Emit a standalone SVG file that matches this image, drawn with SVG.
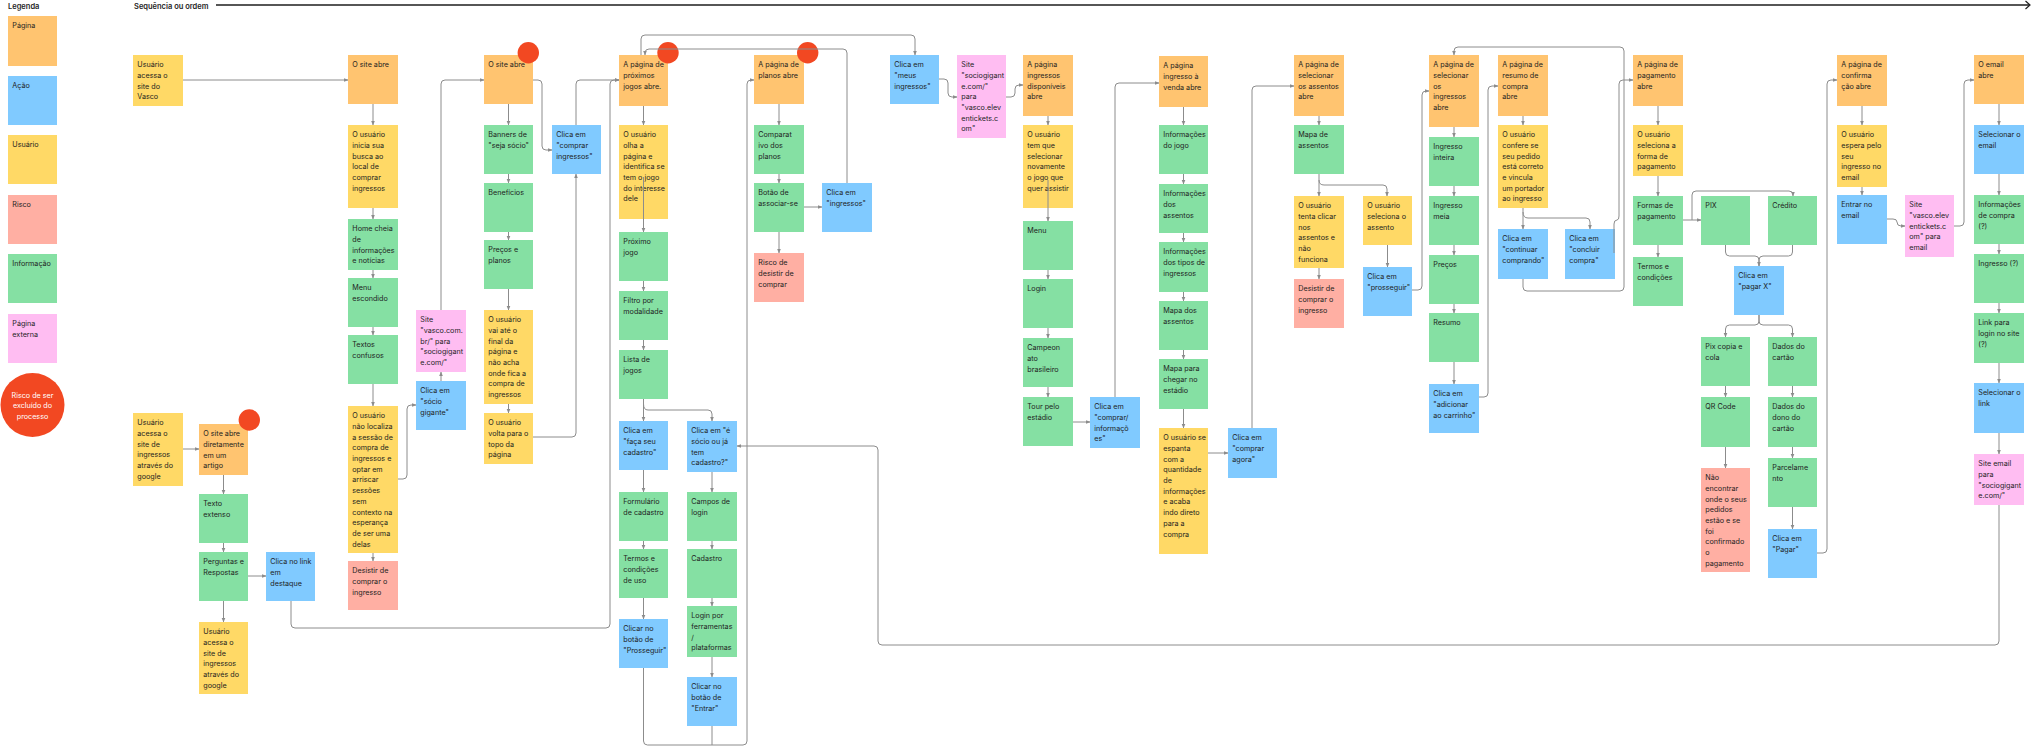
<svg xmlns="http://www.w3.org/2000/svg" width="2032" height="746" viewBox="0 0 2032 746">
<defs>
<marker id="ah" viewBox="0 0 6 6" refX="5.5" refY="3" markerWidth="4.5" markerHeight="4.5" markerUnits="userSpaceOnUse" orient="auto"><path d="M0,0.5 L6,3 L0,5.5 z" fill="#8c8c8c"/></marker>
</defs>
<style>
.pg{fill:#FFC470}.ac{fill:#80CAFF}.us{fill:#FFD966}.ri{fill:#FFAFA3}.in{fill:#85E0A3}.ex{fill:#FFBDF2}
.t{font-family:Inter,"Noto Sans","Liberation Sans",sans-serif;font-size:7.2px;fill:#1e1e1e}
.h{font-family:Inter,"Noto Sans","Liberation Sans",sans-serif;font-size:7.5px;font-weight:600;fill:#1e1e1e}
.w{font-family:Inter,"Noto Sans","Liberation Sans",sans-serif;font-size:7.2px;fill:#ffffff;text-anchor:middle}
.c{fill:none;stroke:#8c8c8c;stroke-width:1;marker-end:url(#ah)}
.cn{fill:none;stroke:#8c8c8c;stroke-width:1}
.rd{fill:#F24822}
</style>
<rect width="2032" height="746" fill="#ffffff"/>

<g id="header">
<text class="h" x="8" y="9">Legenda</text>
<text class="h" x="134" y="9">Sequência ou ordem</text>
<path d="M216,5 H2029" stroke="#1e1e1e" stroke-width="1.6" fill="none"/>
<polyline points="2025.5,1 2030,5 2025.5,9" stroke="#1e1e1e" stroke-width="1.2" fill="none"/>
</g>

<g id="legend">
<g id="leg-pagina"><rect class="pg" x="8" y="16" width="49" height="50"/><text class="t" x="12.3" y="28.2">Página</text></g>
<g id="leg-acao"><rect class="ac" x="8" y="76" width="49" height="49"/><text class="t" x="12.3" y="88.2">Ação</text></g>
<g id="leg-usuario"><rect class="us" x="8" y="135" width="49" height="49"/><text class="t" x="12.3" y="147.2">Usuário</text></g>
<g id="leg-risco"><rect class="ri" x="8" y="195" width="49" height="49"/><text class="t" x="12.3" y="207.2">Risco</text></g>
<g id="leg-info"><rect class="in" x="8" y="254" width="49" height="49"/><text class="t" x="12.3" y="266.2">Informação</text></g>
<g id="leg-externa"><rect class="ex" x="8" y="314" width="49" height="49"/><text class="t" x="12.3" y="326.2"><tspan x="12.3">Página</tspan><tspan x="12.3" dy="10.7">externa</tspan></text></g>
<g id="leg-exclusao"><circle class="rd" cx="32.5" cy="405" r="32"/><text class="w" x="32.5" y="397.5"><tspan x="32.5">Risco de ser</tspan><tspan x="32.5" dy="10.7">excluído do</tspan><tspan x="32.5" dy="10.7">processo</tspan></text></g>
</g>

<g id="nodes">
<g id="n1"><rect class="us" x="133" y="55" width="50" height="51"/><text class="t" x="137.3" y="67.2"><tspan x="137.3">Usuário</tspan><tspan x="137.3" dy="10.7">acessa o</tspan><tspan x="137.3" dy="10.7">site do</tspan><tspan x="137.3" dy="10.7">Vasco</tspan></text></g>
<g id="n2"><rect class="us" x="133" y="413" width="50" height="73"/><text class="t" x="137.3" y="425.2"><tspan x="137.3">Usuário</tspan><tspan x="137.3" dy="10.7">acessa o</tspan><tspan x="137.3" dy="10.7">site de</tspan><tspan x="137.3" dy="10.7">ingressos</tspan><tspan x="137.3" dy="10.7">através do</tspan><tspan x="137.3" dy="10.7">google</tspan></text></g>
<g id="n3"><rect class="pg" x="199" y="424" width="49" height="51"/><text class="t" x="203.3" y="436.2"><tspan x="203.3">O site abre</tspan><tspan x="203.3" dy="10.7">diretamente</tspan><tspan x="203.3" dy="10.7">em um</tspan><tspan x="203.3" dy="10.7">artigo</tspan></text><circle class="rd" cx="249.3" cy="420" r="10.7"/></g>
<g id="n4"><rect class="in" x="199" y="494" width="49" height="49"/><text class="t" x="203.3" y="506.2"><tspan x="203.3">Texto</tspan><tspan x="203.3" dy="10.7">extenso</tspan></text></g>
<g id="n5"><rect class="in" x="199" y="552" width="49" height="49"/><text class="t" x="203.3" y="564.2"><tspan x="203.3">Perguntas e</tspan><tspan x="203.3" dy="10.7">Respostas</tspan></text></g>
<g id="n6"><rect class="ac" x="266" y="552" width="49" height="49"/><text class="t" x="270.3" y="564.2"><tspan x="270.3">Clica no link</tspan><tspan x="270.3" dy="10.7">em</tspan><tspan x="270.3" dy="10.7">destaque</tspan></text></g>
<g id="n7"><rect class="us" x="199" y="622" width="49" height="72"/><text class="t" x="203.3" y="634.2"><tspan x="203.3">Usuário</tspan><tspan x="203.3" dy="10.7">acessa o</tspan><tspan x="203.3" dy="10.7">site de</tspan><tspan x="203.3" dy="10.7">ingressos</tspan><tspan x="203.3" dy="10.7">através do</tspan><tspan x="203.3" dy="10.7">google</tspan></text></g>

<g id="n8"><rect class="pg" x="348" y="55" width="50" height="49"/><text class="t" x="352.3" y="67.2">O site abre</text></g>
<g id="n9"><rect class="us" x="348" y="125" width="50" height="83"/><text class="t" x="352.3" y="137.2"><tspan x="352.3">O usuário</tspan><tspan x="352.3" dy="10.7">inicia sua</tspan><tspan x="352.3" dy="10.7">busca ao</tspan><tspan x="352.3" dy="10.7">local de</tspan><tspan x="352.3" dy="10.7">comprar</tspan><tspan x="352.3" dy="10.7">ingressos</tspan></text></g>
<g id="n10"><rect class="in" x="348" y="219" width="50" height="51"/><text class="t" x="352.3" y="231.2"><tspan x="352.3">Home cheia</tspan><tspan x="352.3" dy="10.7">de</tspan><tspan x="352.3" dy="10.7">informações</tspan><tspan x="352.3" dy="10.7">e notícias</tspan></text></g>
<g id="n11"><rect class="in" x="348" y="278" width="50" height="49"/><text class="t" x="352.3" y="290.2"><tspan x="352.3">Menu</tspan><tspan x="352.3" dy="10.7">escondido</tspan></text></g>
<g id="n12"><rect class="in" x="348" y="335" width="50" height="49"/><text class="t" x="352.3" y="347.2"><tspan x="352.3">Textos</tspan><tspan x="352.3" dy="10.7">confusos</tspan></text></g>
<g id="n13"><rect class="us" x="348" y="406" width="50" height="147"/><text class="t" x="352.3" y="418.2"><tspan x="352.3">O usuário</tspan><tspan x="352.3" dy="10.7">não localiza</tspan><tspan x="352.3" dy="10.7">a sessão de</tspan><tspan x="352.3" dy="10.7">compra de</tspan><tspan x="352.3" dy="10.7">ingressos e</tspan><tspan x="352.3" dy="10.7">optar em</tspan><tspan x="352.3" dy="10.7">arriscar</tspan><tspan x="352.3" dy="10.7">sessões</tspan><tspan x="352.3" dy="10.7">sem</tspan><tspan x="352.3" dy="10.7">contexto na</tspan><tspan x="352.3" dy="10.7">esperança</tspan><tspan x="352.3" dy="10.7">de ser uma</tspan><tspan x="352.3" dy="10.7">delas</tspan></text></g>
<g id="n14"><rect class="ri" x="348" y="561" width="50" height="49"/><text class="t" x="352.3" y="573.2"><tspan x="352.3">Desistir de</tspan><tspan x="352.3" dy="10.7">comprar o</tspan><tspan x="352.3" dy="10.7">ingresso</tspan></text></g>
<g id="n15"><rect class="ex" x="416" y="310" width="50" height="62"/><text class="t" x="420.3" y="322.2"><tspan x="420.3">Site</tspan><tspan x="420.3" dy="10.7">"vasco.com.</tspan><tspan x="420.3" dy="10.7">br/" para</tspan><tspan x="420.3" dy="10.7">"sociogigant</tspan><tspan x="420.3" dy="10.7">e.com/"</tspan></text></g>
<g id="n16"><rect class="ac" x="416" y="381" width="50" height="49"/><text class="t" x="420.3" y="393.2"><tspan x="420.3">Clica em</tspan><tspan x="420.3" dy="10.7">"sócio</tspan><tspan x="420.3" dy="10.7">gigante"</tspan></text></g>

<g id="n17"><rect class="pg" x="484" y="55" width="49" height="49"/><text class="t" x="488.3" y="67.2">O site abre</text><circle class="rd" cx="528.3" cy="52.7" r="10.7"/></g>
<g id="n18"><rect class="in" x="484" y="125" width="49" height="49"/><text class="t" x="488.3" y="137.2"><tspan x="488.3">Banners de</tspan><tspan x="488.3" dy="10.7">"seja sócio"</tspan></text></g>
<g id="n19"><rect class="in" x="484" y="183" width="49" height="49"/><text class="t" x="488.3" y="195.2">Benefícios</text></g>
<g id="n20"><rect class="in" x="484" y="240" width="49" height="49"/><text class="t" x="488.3" y="252.2"><tspan x="488.3">Preços e</tspan><tspan x="488.3" dy="10.7">planos</tspan></text></g>
<g id="n21"><rect class="us" x="484" y="310" width="49" height="94"/><text class="t" x="488.3" y="322.2"><tspan x="488.3">O usuário</tspan><tspan x="488.3" dy="10.7">vai até o</tspan><tspan x="488.3" dy="10.7">final da</tspan><tspan x="488.3" dy="10.7">página e</tspan><tspan x="488.3" dy="10.7">não acha</tspan><tspan x="488.3" dy="10.7">onde fica a</tspan><tspan x="488.3" dy="10.7">compra de</tspan><tspan x="488.3" dy="10.7">ingressos</tspan></text></g>
<g id="n22"><rect class="us" x="484" y="413" width="49" height="51"/><text class="t" x="488.3" y="425.2"><tspan x="488.3">O usuário</tspan><tspan x="488.3" dy="10.7">volta para o</tspan><tspan x="488.3" dy="10.7">topo da</tspan><tspan x="488.3" dy="10.7">página</tspan></text></g>
<g id="n23"><rect class="ac" x="552" y="125" width="49" height="49"/><text class="t" x="556.3" y="137.2"><tspan x="556.3">Clica em</tspan><tspan x="556.3" dy="10.7">"comprar</tspan><tspan x="556.3" dy="10.7">ingressos"</tspan></text></g>

<g id="n24"><rect class="pg" x="619" y="55" width="49" height="51"/><text class="t" x="623.3" y="67.2"><tspan x="623.3">A página de</tspan><tspan x="623.3" dy="10.7">próximos</tspan><tspan x="623.3" dy="10.7">jogos abre.</tspan></text><circle class="rd" cx="668" cy="52.7" r="10.7"/></g>
<g id="n25"><rect class="us" x="619" y="125" width="49" height="94"/><text class="t" x="623.3" y="137.2"><tspan x="623.3">O usuário</tspan><tspan x="623.3" dy="10.7">olha a</tspan><tspan x="623.3" dy="10.7">página e</tspan><tspan x="623.3" dy="10.7">identifica se</tspan><tspan x="623.3" dy="10.7">tem o jogo</tspan><tspan x="623.3" dy="10.7">do interesse</tspan><tspan x="623.3" dy="10.7">dele</tspan></text></g>
<g id="n26"><rect class="in" x="619" y="232" width="49" height="49"/><text class="t" x="623.3" y="244.2"><tspan x="623.3">Próximo</tspan><tspan x="623.3" dy="10.7">jogo</tspan></text></g>
<g id="n27"><rect class="in" x="619" y="291" width="49" height="49"/><text class="t" x="623.3" y="303.2"><tspan x="623.3">Filtro por</tspan><tspan x="623.3" dy="10.7">modalidade</tspan></text></g>
<g id="n28"><rect class="in" x="619" y="350" width="49" height="49"/><text class="t" x="623.3" y="362.2"><tspan x="623.3">Lista de</tspan><tspan x="623.3" dy="10.7">jogos</tspan></text></g>
<g id="n29"><rect class="ac" x="619" y="421" width="49" height="49"/><text class="t" x="623.3" y="433.2"><tspan x="623.3">Clica em</tspan><tspan x="623.3" dy="10.7">"faça seu</tspan><tspan x="623.3" dy="10.7">cadastro"</tspan></text></g>
<g id="n30"><rect class="in" x="619" y="492" width="49" height="49"/><text class="t" x="623.3" y="504.2"><tspan x="623.3">Formulário</tspan><tspan x="623.3" dy="10.7">de cadastro</tspan></text></g>
<g id="n31"><rect class="in" x="619" y="549" width="49" height="49"/><text class="t" x="623.3" y="561.2"><tspan x="623.3">Termos e</tspan><tspan x="623.3" dy="10.7">condições</tspan><tspan x="623.3" dy="10.7">de uso</tspan></text></g>
<g id="n32"><rect class="ac" x="619" y="619" width="49" height="49"/><text class="t" x="623.3" y="631.2"><tspan x="623.3">Clicar no</tspan><tspan x="623.3" dy="10.7">botão de</tspan><tspan x="623.3" dy="10.7">"Prosseguir"</tspan></text></g>

<g id="n33"><rect class="ac" x="687" y="421" width="50" height="51"/><text class="t" x="691.3" y="433.2"><tspan x="691.3">Clica em "é</tspan><tspan x="691.3" dy="10.7">sócio ou já</tspan><tspan x="691.3" dy="10.7">tem</tspan><tspan x="691.3" dy="10.7">cadastro?"</tspan></text></g>
<g id="n34"><rect class="in" x="687" y="492" width="50" height="49"/><text class="t" x="691.3" y="504.2"><tspan x="691.3">Campos de</tspan><tspan x="691.3" dy="10.7">login</tspan></text></g>
<g id="n35"><rect class="in" x="687" y="549" width="50" height="49"/><text class="t" x="691.3" y="561.2">Cadastro</text></g>
<g id="n36"><rect class="in" x="687" y="606" width="50" height="51"/><text class="t" x="691.3" y="618.2"><tspan x="691.3">Login por</tspan><tspan x="691.3" dy="10.7">ferramentas</tspan><tspan x="691.3" dy="10.7">/</tspan><tspan x="691.3" dy="10.7">plataformas</tspan></text></g>
<g id="n37"><rect class="ac" x="687" y="677" width="50" height="49"/><text class="t" x="691.3" y="689.2"><tspan x="691.3">Clicar no</tspan><tspan x="691.3" dy="10.7">botão de</tspan><tspan x="691.3" dy="10.7">"Entrar"</tspan></text></g>

<g id="n38"><rect class="pg" x="754" y="55" width="50" height="49"/><text class="t" x="758.3" y="67.2"><tspan x="758.3">A página de</tspan><tspan x="758.3" dy="10.7">planos abre</tspan></text><circle class="rd" cx="807.7" cy="52.7" r="10.7"/></g>
<g id="n39"><rect class="in" x="754" y="125" width="50" height="49"/><text class="t" x="758.3" y="137.2"><tspan x="758.3">Comparat</tspan><tspan x="758.3" dy="10.7">ivo dos</tspan><tspan x="758.3" dy="10.7">planos</tspan></text></g>
<g id="n40"><rect class="in" x="754" y="183" width="50" height="49"/><text class="t" x="758.3" y="195.2"><tspan x="758.3">Botão de</tspan><tspan x="758.3" dy="10.7">associar-se</tspan></text></g>
<g id="n41"><rect class="ri" x="754" y="253" width="50" height="49"/><text class="t" x="758.3" y="265.2"><tspan x="758.3">Risco de</tspan><tspan x="758.3" dy="10.7">desistir de</tspan><tspan x="758.3" dy="10.7">comprar</tspan></text></g>
<g id="n42"><rect class="ac" x="822" y="183" width="50" height="49"/><text class="t" x="826.3" y="195.2"><tspan x="826.3">Clica em</tspan><tspan x="826.3" dy="10.7">"ingressos"</tspan></text></g>
<g id="n43"><rect class="ac" x="890" y="55" width="49" height="49"/><text class="t" x="894.3" y="67.2"><tspan x="894.3">Clica em</tspan><tspan x="894.3" dy="10.7">"meus</tspan><tspan x="894.3" dy="10.7">ingressos"</tspan></text></g>
<g id="n44"><rect class="ex" x="957" y="55" width="49" height="83"/><text class="t" x="961.3" y="67.2"><tspan x="961.3">Site</tspan><tspan x="961.3" dy="10.7">"sociogigant</tspan><tspan x="961.3" dy="10.7">e.com/"</tspan><tspan x="961.3" dy="10.7">para</tspan><tspan x="961.3" dy="10.7">"vasco.elev</tspan><tspan x="961.3" dy="10.7">entickets.c</tspan><tspan x="961.3" dy="10.7">om"</tspan></text></g>

<g id="n45"><rect class="pg" x="1023" y="55" width="50" height="61"/><text class="t" x="1027.3" y="67.2"><tspan x="1027.3">A página</tspan><tspan x="1027.3" dy="10.7">ingressos</tspan><tspan x="1027.3" dy="10.7">disponíveis</tspan><tspan x="1027.3" dy="10.7">abre</tspan></text></g>
<g id="n46"><rect class="us" x="1023" y="125" width="50" height="83"/><text class="t" x="1027.3" y="137.2"><tspan x="1027.3">O usuário</tspan><tspan x="1027.3" dy="10.7">tem que</tspan><tspan x="1027.3" dy="10.7">selecionar</tspan><tspan x="1027.3" dy="10.7">novamente</tspan><tspan x="1027.3" dy="10.7">o jogo que</tspan><tspan x="1027.3" dy="10.7">quer assistir</tspan></text></g>
<g id="n47"><rect class="in" x="1023" y="221" width="50" height="49"/><text class="t" x="1027.3" y="233.2">Menu</text></g>
<g id="n48"><rect class="in" x="1023" y="279" width="50" height="49"/><text class="t" x="1027.3" y="291.2">Login</text></g>
<g id="n49"><rect class="in" x="1023" y="338" width="50" height="49"/><text class="t" x="1027.3" y="350.2"><tspan x="1027.3">Campeon</tspan><tspan x="1027.3" dy="10.7">ato</tspan><tspan x="1027.3" dy="10.7">brasileiro</tspan></text></g>
<g id="n50"><rect class="in" x="1023" y="397" width="50" height="49"/><text class="t" x="1027.3" y="409.2"><tspan x="1027.3">Tour pelo</tspan><tspan x="1027.3" dy="10.7">estádio</tspan></text></g>
<g id="n51"><rect class="ac" x="1090" y="397" width="50" height="51"/><text class="t" x="1094.3" y="409.2"><tspan x="1094.3">Clica em</tspan><tspan x="1094.3" dy="10.7">"comprar/</tspan><tspan x="1094.3" dy="10.7">informaçõ</tspan><tspan x="1094.3" dy="10.7">es"</tspan></text></g>

<g id="n52"><rect class="pg" x="1159" y="56" width="49" height="51"/><text class="t" x="1163.3" y="68.2"><tspan x="1163.3">A página</tspan><tspan x="1163.3" dy="10.7">ingresso à</tspan><tspan x="1163.3" dy="10.7">venda abre</tspan></text></g>
<g id="n53"><rect class="in" x="1159" y="125" width="49" height="49"/><text class="t" x="1163.3" y="137.2"><tspan x="1163.3">Informações</tspan><tspan x="1163.3" dy="10.7">do jogo</tspan></text></g>
<g id="n54"><rect class="in" x="1159" y="184" width="49" height="49"/><text class="t" x="1163.3" y="196.2"><tspan x="1163.3">Informações</tspan><tspan x="1163.3" dy="10.7">dos</tspan><tspan x="1163.3" dy="10.7">assentos</tspan></text></g>
<g id="n55"><rect class="in" x="1159" y="242" width="49" height="50"/><text class="t" x="1163.3" y="254.2"><tspan x="1163.3">Informações</tspan><tspan x="1163.3" dy="10.7">dos tipos de</tspan><tspan x="1163.3" dy="10.7">ingressos</tspan></text></g>
<g id="n56"><rect class="in" x="1159" y="301" width="49" height="49"/><text class="t" x="1163.3" y="313.2"><tspan x="1163.3">Mapa dos</tspan><tspan x="1163.3" dy="10.7">assentos</tspan></text></g>
<g id="n57"><rect class="in" x="1159" y="359" width="49" height="50"/><text class="t" x="1163.3" y="371.2"><tspan x="1163.3">Mapa para</tspan><tspan x="1163.3" dy="10.7">chegar no</tspan><tspan x="1163.3" dy="10.7">estádio</tspan></text></g>
<g id="n58"><rect class="us" x="1159" y="428" width="49" height="126"/><text class="t" x="1163.3" y="440.2"><tspan x="1163.3">O usuário se</tspan><tspan x="1163.3" dy="10.7">espanta</tspan><tspan x="1163.3" dy="10.7">com a</tspan><tspan x="1163.3" dy="10.7">quantidade</tspan><tspan x="1163.3" dy="10.7">de</tspan><tspan x="1163.3" dy="10.7">informações</tspan><tspan x="1163.3" dy="10.7">e acaba</tspan><tspan x="1163.3" dy="10.7">indo direto</tspan><tspan x="1163.3" dy="10.7">para a</tspan><tspan x="1163.3" dy="10.7">compra</tspan></text></g>
<g id="n59"><rect class="ac" x="1228" y="428" width="49" height="50"/><text class="t" x="1232.3" y="440.2"><tspan x="1232.3">Clica em</tspan><tspan x="1232.3" dy="10.7">"comprar</tspan><tspan x="1232.3" dy="10.7">agora"</tspan></text></g>

<g id="n60"><rect class="pg" x="1294" y="55" width="50" height="61"/><text class="t" x="1298.3" y="67.2"><tspan x="1298.3">A página de</tspan><tspan x="1298.3" dy="10.7">selecionar</tspan><tspan x="1298.3" dy="10.7">os assentos</tspan><tspan x="1298.3" dy="10.7">abre</tspan></text></g>
<g id="n61"><rect class="in" x="1294" y="125" width="50" height="49"/><text class="t" x="1298.3" y="137.2"><tspan x="1298.3">Mapa de</tspan><tspan x="1298.3" dy="10.7">assentos</tspan></text></g>
<g id="n62"><rect class="us" x="1294" y="196" width="50" height="72"/><text class="t" x="1298.3" y="208.2"><tspan x="1298.3">O usuário</tspan><tspan x="1298.3" dy="10.7">tenta clicar</tspan><tspan x="1298.3" dy="10.7">nos</tspan><tspan x="1298.3" dy="10.7">assentos e</tspan><tspan x="1298.3" dy="10.7">não</tspan><tspan x="1298.3" dy="10.7">funciona</tspan></text></g>
<g id="n63"><rect class="ri" x="1294" y="279" width="50" height="49"/><text class="t" x="1298.3" y="291.2"><tspan x="1298.3">Desistir de</tspan><tspan x="1298.3" dy="10.7">comprar o</tspan><tspan x="1298.3" dy="10.7">ingresso</tspan></text></g>
<g id="n64"><rect class="us" x="1363" y="196" width="49" height="49"/><text class="t" x="1367.3" y="208.2"><tspan x="1367.3">O usuário</tspan><tspan x="1367.3" dy="10.7">seleciona o</tspan><tspan x="1367.3" dy="10.7">assento</tspan></text></g>
<g id="n65"><rect class="ac" x="1363" y="267" width="49" height="49"/><text class="t" x="1367.3" y="279.2"><tspan x="1367.3">Clica em</tspan><tspan x="1367.3" dy="10.7">"prosseguir"</tspan></text></g>

<g id="n66"><rect class="pg" x="1429" y="55" width="50" height="72"/><text class="t" x="1433.3" y="67.2"><tspan x="1433.3">A página de</tspan><tspan x="1433.3" dy="10.7">selecionar</tspan><tspan x="1433.3" dy="10.7">os</tspan><tspan x="1433.3" dy="10.7">ingressos</tspan><tspan x="1433.3" dy="10.7">abre</tspan></text></g>
<g id="n67"><rect class="in" x="1429" y="137" width="50" height="49"/><text class="t" x="1433.3" y="149.2"><tspan x="1433.3">Ingresso</tspan><tspan x="1433.3" dy="10.7">inteira</tspan></text></g>
<g id="n68"><rect class="in" x="1429" y="196" width="50" height="49"/><text class="t" x="1433.3" y="208.2"><tspan x="1433.3">Ingresso</tspan><tspan x="1433.3" dy="10.7">meia</tspan></text></g>
<g id="n69"><rect class="in" x="1429" y="255" width="50" height="49"/><text class="t" x="1433.3" y="267.2">Preços</text></g>
<g id="n70"><rect class="in" x="1429" y="313" width="50" height="49"/><text class="t" x="1433.3" y="325.2">Resumo</text></g>
<g id="n71"><rect class="ac" x="1429" y="384" width="50" height="49"/><text class="t" x="1433.3" y="396.2"><tspan x="1433.3">Clica em</tspan><tspan x="1433.3" dy="10.7">"adicionar</tspan><tspan x="1433.3" dy="10.7">ao carrinho"</tspan></text></g>

<g id="n72"><rect class="pg" x="1498" y="55" width="50" height="61"/><text class="t" x="1502.3" y="67.2"><tspan x="1502.3">A página de</tspan><tspan x="1502.3" dy="10.7">resumo de</tspan><tspan x="1502.3" dy="10.7">compra</tspan><tspan x="1502.3" dy="10.7">abre</tspan></text></g>
<g id="n73"><rect class="us" x="1498" y="125" width="50" height="83"/><text class="t" x="1502.3" y="137.2"><tspan x="1502.3">O usuário</tspan><tspan x="1502.3" dy="10.7">confere se</tspan><tspan x="1502.3" dy="10.7">seu pedido</tspan><tspan x="1502.3" dy="10.7">está correto</tspan><tspan x="1502.3" dy="10.7">e vincula</tspan><tspan x="1502.3" dy="10.7">um portador</tspan><tspan x="1502.3" dy="10.7">ao ingresso</tspan></text></g>
<g id="n74"><rect class="ac" x="1498" y="229" width="50" height="50"/><text class="t" x="1502.3" y="241.2"><tspan x="1502.3">Clica em</tspan><tspan x="1502.3" dy="10.7">"continuar</tspan><tspan x="1502.3" dy="10.7">comprando"</tspan></text></g>
<g id="n75"><rect class="ac" x="1565" y="229" width="50" height="50"/><text class="t" x="1569.3" y="241.2"><tspan x="1569.3">Clica em</tspan><tspan x="1569.3" dy="10.7">"concluir</tspan><tspan x="1569.3" dy="10.7">compra"</tspan></text></g>

<g id="n76"><rect class="pg" x="1633" y="55" width="50" height="51"/><text class="t" x="1637.3" y="67.2"><tspan x="1637.3">A página de</tspan><tspan x="1637.3" dy="10.7">pagamento</tspan><tspan x="1637.3" dy="10.7">abre</tspan></text></g>
<g id="n77"><rect class="us" x="1633" y="125" width="50" height="51"/><text class="t" x="1637.3" y="137.2"><tspan x="1637.3">O usuário</tspan><tspan x="1637.3" dy="10.7">seleciona a</tspan><tspan x="1637.3" dy="10.7">forma de</tspan><tspan x="1637.3" dy="10.7">pagamento</tspan></text></g>
<g id="n78"><rect class="in" x="1633" y="196" width="50" height="49"/><text class="t" x="1637.3" y="208.2"><tspan x="1637.3">Formas de</tspan><tspan x="1637.3" dy="10.7">pagamento</tspan></text></g>
<g id="n79"><rect class="in" x="1633" y="257" width="50" height="49"/><text class="t" x="1637.3" y="269.2"><tspan x="1637.3">Termos e</tspan><tspan x="1637.3" dy="10.7">condições</tspan></text></g>
<g id="n80"><rect class="in" x="1701" y="196" width="49" height="49"/><text class="t" x="1705.3" y="208.2">PIX</text></g>
<g id="n81"><rect class="in" x="1768" y="196" width="49" height="49"/><text class="t" x="1772.3" y="208.2">Crédito</text></g>
<g id="n82"><rect class="ac" x="1734" y="266" width="50" height="49"/><text class="t" x="1738.3" y="278.2"><tspan x="1738.3">Clica em</tspan><tspan x="1738.3" dy="10.7">"pagar X"</tspan></text></g>
<g id="n83"><rect class="in" x="1701" y="337" width="49" height="49"/><text class="t" x="1705.3" y="349.2"><tspan x="1705.3">Pix copia e</tspan><tspan x="1705.3" dy="10.7">cola</tspan></text></g>
<g id="n84"><rect class="in" x="1768" y="337" width="49" height="49"/><text class="t" x="1772.3" y="349.2"><tspan x="1772.3">Dados do</tspan><tspan x="1772.3" dy="10.7">cartão</tspan></text></g>
<g id="n85"><rect class="in" x="1701" y="397" width="49" height="50"/><text class="t" x="1705.3" y="409.2">QR Code</text></g>
<g id="n86"><rect class="in" x="1768" y="397" width="49" height="50"/><text class="t" x="1772.3" y="409.2"><tspan x="1772.3">Dados do</tspan><tspan x="1772.3" dy="10.7">dono do</tspan><tspan x="1772.3" dy="10.7">cartão</tspan></text></g>
<g id="n87"><rect class="ri" x="1701" y="468" width="49" height="104"/><text class="t" x="1705.3" y="480.2"><tspan x="1705.3">Não</tspan><tspan x="1705.3" dy="10.7">encontrar</tspan><tspan x="1705.3" dy="10.7">onde o seus</tspan><tspan x="1705.3" dy="10.7">pedidos</tspan><tspan x="1705.3" dy="10.7">estão e se</tspan><tspan x="1705.3" dy="10.7">foi</tspan><tspan x="1705.3" dy="10.7">confirmado</tspan><tspan x="1705.3" dy="10.7">o</tspan><tspan x="1705.3" dy="10.7">pagamento</tspan></text></g>
<g id="n88"><rect class="in" x="1768" y="458" width="49" height="49"/><text class="t" x="1772.3" y="470.2"><tspan x="1772.3">Parcelame</tspan><tspan x="1772.3" dy="10.7">nto</tspan></text></g>
<g id="n89"><rect class="ac" x="1768" y="529" width="49" height="49"/><text class="t" x="1772.3" y="541.2"><tspan x="1772.3">Clica em</tspan><tspan x="1772.3" dy="10.7">"Pagar"</tspan></text></g>

<g id="n90"><rect class="pg" x="1837" y="55" width="50" height="51"/><text class="t" x="1841.3" y="67.2"><tspan x="1841.3">A página de</tspan><tspan x="1841.3" dy="10.7">confirma</tspan><tspan x="1841.3" dy="10.7">ção abre</tspan></text></g>
<g id="n91"><rect class="us" x="1837" y="125" width="50" height="62"/><text class="t" x="1841.3" y="137.2"><tspan x="1841.3">O usuário</tspan><tspan x="1841.3" dy="10.7">espera pelo</tspan><tspan x="1841.3" dy="10.7">seu</tspan><tspan x="1841.3" dy="10.7">ingresso no</tspan><tspan x="1841.3" dy="10.7">email</tspan></text></g>
<g id="n92"><rect class="ac" x="1837" y="195" width="50" height="49"/><text class="t" x="1841.3" y="207.2"><tspan x="1841.3">Entrar no</tspan><tspan x="1841.3" dy="10.7">email</tspan></text></g>
<g id="n93"><rect class="ex" x="1905" y="195" width="49" height="62"/><text class="t" x="1909.3" y="207.2"><tspan x="1909.3">Site</tspan><tspan x="1909.3" dy="10.7">"vasco.elev</tspan><tspan x="1909.3" dy="10.7">entickets.c</tspan><tspan x="1909.3" dy="10.7">om" para</tspan><tspan x="1909.3" dy="10.7">email</tspan></text></g>

<g id="n94"><rect class="pg" x="1974" y="55" width="50" height="49"/><text class="t" x="1978.3" y="67.2"><tspan x="1978.3">O email</tspan><tspan x="1978.3" dy="10.7">abre</tspan></text></g>
<g id="n95"><rect class="ac" x="1974" y="125" width="50" height="49"/><text class="t" x="1978.3" y="137.2"><tspan x="1978.3">Selecionar o</tspan><tspan x="1978.3" dy="10.7">email</tspan></text></g>
<g id="n96"><rect class="in" x="1974" y="195" width="50" height="49"/><text class="t" x="1978.3" y="207.2"><tspan x="1978.3">Informações</tspan><tspan x="1978.3" dy="10.7">de compra</tspan><tspan x="1978.3" dy="10.7">(?)</tspan></text></g>
<g id="n97"><rect class="in" x="1974" y="254" width="50" height="49"/><text class="t" x="1978.3" y="266.2">Ingresso (?)</text></g>
<g id="n98"><rect class="in" x="1974" y="313" width="50" height="50"/><text class="t" x="1978.3" y="325.2"><tspan x="1978.3">Link para</tspan><tspan x="1978.3" dy="10.7">login no site</tspan><tspan x="1978.3" dy="10.7">(?)</tspan></text></g>
<g id="n99"><rect class="ac" x="1974" y="383" width="50" height="50"/><text class="t" x="1978.3" y="395.2"><tspan x="1978.3">Selecionar o</tspan><tspan x="1978.3" dy="10.7">link</tspan></text></g>
<g id="n100"><rect class="ex" x="1974" y="454" width="50" height="51"/><text class="t" x="1978.3" y="466.2"><tspan x="1978.3">Site email</tspan><tspan x="1978.3" dy="10.7">para</tspan><tspan x="1978.3" dy="10.7">"sociogigant</tspan><tspan x="1978.3" dy="10.7">e.com/"</tspan></text></g>
</g>

<g id="connectors">
<path class="c" d="M183,80 H348"/>
<path class="c" d="M183,449 H199"/>
<path class="c" d="M223.5,475 V494"/>
<path class="c" d="M223.5,543 V552"/>
<path class="c" d="M248,576 H266"/>
<path class="c" d="M223.5,601 V622"/>
<path class="c" d="M291,601 V624 Q291,628 295,628 H606 Q610,628 610,624 V84 Q610,80 614,80 H619"/>
<path class="c" d="M373,104 V125"/>
<path class="c" d="M373,208 V219"/>
<path class="c" d="M373,270 V278"/>
<path class="c" d="M373,327 V335"/>
<path class="c" d="M373,384 V406"/>
<path class="c" d="M373,553 V561"/>
<path class="c" d="M398,479 H403 Q407,479 407,475 V409 Q407,405 411,405 H416"/>
<path class="c" d="M441,381 V372"/>
<path class="c" d="M441,310 V84 Q441,80 445,80 H484"/>
<path class="c" d="M508.5,104 V125"/>
<path class="c" d="M508.5,174 V183"/>
<path class="c" d="M508.5,232 V240"/>
<path class="c" d="M508.5,289 V310"/>
<path class="c" d="M508.5,404 V413"/>
<path class="c" d="M533,80 H538 Q542,80 542,84 V146 Q542,150 546,150 H552"/>
<path class="c" d="M533,437 H572 Q576,437 576,433 V174"/>
<path class="c" d="M576,125 V84 Q576,80 580,80 H619"/>
<path class="c" d="M643.5,106 V125"/>
<path class="c" d="M643.5,177 V232"/>
<path class="c" d="M643.5,281 V291"/>
<path class="c" d="M643.5,340 V350"/>
<path class="c" d="M643.5,399 V421"/>
<path class="c" d="M643.5,470 V492"/>
<path class="c" d="M643.5,541 V549"/>
<path class="c" d="M643.5,598 V619"/>
<path class="c" d="M643.5,404 Q643.5,410 648,410 H708 Q712,410 712,414 V421"/>
<path class="c" d="M712,472 V492"/>
<path class="c" d="M712,541 V549"/>
<path class="c" d="M712,598 V606"/>
<path class="c" d="M712,657 V677"/>
<path class="c" d="M643.5,668 V741 Q643.5,745 647.5,745 H743 Q747,745 747,741 V84 Q747,80 751,80 H754"/>
<path class="cn" d="M712,726 V745"/>
<path class="c" d="M779,104 V125"/>
<path class="c" d="M779,174 V183"/>
<path class="c" d="M779,232 V253"/>
<path class="c" d="M804,207 H822"/>
<path class="c" d="M847,183 V53 Q847,49 843,49 H649 Q645,49 645,53 V55"/>
<path class="c" d="M641,55 V39 Q641,35 645,35 H911 Q915,35 915,39 V55"/>
<path class="c" d="M939,79 H944 Q948,79 948,83 V93 Q948,97 952,97 H957"/>
<path class="c" d="M1006,97 H1011 Q1015,97 1015,93 V89 Q1015,85 1019,85 H1023"/>
<path class="c" d="M1048,116 V125"/>
<path class="c" d="M1048,180 V221"/>
<path class="c" d="M1048,270 V279"/>
<path class="c" d="M1048,328 V338"/>
<path class="c" d="M1048,387 V397"/>
<path class="c" d="M1073,422 H1090"/>
<path class="c" d="M1115,397 V87 Q1115,83 1119,83 H1159"/>
<path class="c" d="M1183.5,107 V125"/>
<path class="c" d="M1183.5,174 V184"/>
<path class="c" d="M1183.5,233 V242"/>
<path class="c" d="M1183.5,292 V301"/>
<path class="c" d="M1183.5,350 V359"/>
<path class="c" d="M1183.5,409 V428"/>
<path class="c" d="M1208,453 H1228"/>
<path class="c" d="M1252,428 V90 Q1252,86 1256,86 H1294"/>
<path class="c" d="M1319,116 V125"/>
<path class="c" d="M1319,174 V196"/>
<path class="c" d="M1319,268 V279"/>
<path class="c" d="M1319,180 Q1319,185 1324,185 H1383 Q1387,185 1387,189 V196"/>
<path class="c" d="M1387.5,245 V267"/>
<path class="c" d="M1412,290 H1418 Q1422,290 1422,286 V95 Q1422,91 1426,91 H1429"/>
<path class="c" d="M1454,127 V137"/>
<path class="c" d="M1454,186 V196"/>
<path class="c" d="M1454,245 V255"/>
<path class="c" d="M1454,304 V313"/>
<path class="c" d="M1454,362 V384"/>
<path class="c" d="M1479,397 H1484 Q1488,397 1488,393 V90 Q1488,86 1492,86 H1498"/>
<path class="c" d="M1523,116 V125"/>
<path class="c" d="M1523,208 V229"/>
<path class="c" d="M1523,212 Q1523,218 1528,218 H1586 Q1590,218 1590,222 V229"/>
<path class="c" d="M1523,279 V287 Q1523,291 1527,291 H1620 Q1624,291 1624,287 V51 Q1624,47 1620,47 H1458 Q1454,47 1454,51 V55"/>
<path class="c" d="M1614,253 V224 Q1614,220 1617,220 Q1619,220 1619,216 V84 Q1619,80 1623,80 H1633"/>
<path class="c" d="M1658,106 V125"/>
<path class="c" d="M1658,176 V196"/>
<path class="c" d="M1658,245 V257"/>
<path class="c" d="M1683,220 H1701"/>
<path class="c" d="M1692,220 V195 Q1692,191 1696,191 H1789 Q1793,191 1793,195 V196"/>
<path class="cn" d="M1725.5,245 V252 Q1725.5,256 1729.5,256 H1755 Q1759,256 1759,260 V266"/>
<path class="c" d="M1792.5,245 V252 Q1792.5,256 1788.5,256 H1763 Q1759,256 1759,260 V266"/>
<path class="c" d="M1759,315 V321 Q1759,325 1755,325 H1729.5 Q1725.5,325 1725.5,329 V337"/>
<path class="c" d="M1759,315 V321 Q1759,325 1763,325 H1788.5 Q1792.5,325 1792.5,329 V337"/>
<path class="c" d="M1725.5,386 V397"/>
<path class="c" d="M1725.5,447 V468"/>
<path class="c" d="M1792.5,386 V397"/>
<path class="c" d="M1792.5,447 V458"/>
<path class="c" d="M1792.5,507 V529"/>
<path class="c" d="M1817,553 H1823 Q1827,553 1827,549 V84 Q1827,80 1831,80 H1837"/>
<path class="c" d="M1862,106 V125"/>
<path class="c" d="M1862,187 V195"/>
<path class="c" d="M1887,219 H1893 Q1897,219 1897,222 Q1897,226 1901,226 H1905"/>
<path class="c" d="M1954,226 H1960 Q1964,226 1964,222 V84 Q1964,80 1968,80 H1974"/>
<path class="c" d="M1999,104 V125"/>
<path class="c" d="M1999,174 V195"/>
<path class="c" d="M1999,244 V254"/>
<path class="c" d="M1999,303 V313"/>
<path class="c" d="M1999,363 V383"/>
<path class="c" d="M1999,433 V454"/>
<path class="c" d="M1999,505 V641 Q1999,645 1995,645 H882 Q878,645 878,641 V450 Q878,446 874,446 H737"/>
</g>
</svg>
